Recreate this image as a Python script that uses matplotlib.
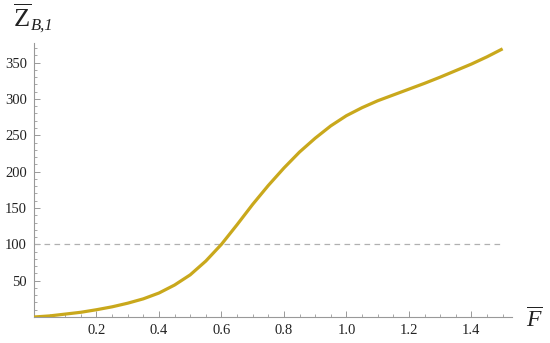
import numpy as np
import matplotlib
matplotlib.use("Agg")
import matplotlib.pyplot as plt
from matplotlib.ticker import MultipleLocator, FixedLocator

# values
F = [0.0, 0.05, 0.1, 0.15, 0.2, 0.25, 0.3, 0.35, 0.4, 0.45, 0.5, 0.55, 0.6,
     0.65, 0.7, 0.75, 0.8, 0.85, 0.9, 0.95, 1.0, 1.05, 1.1, 1.15, 1.2, 1.25,
     1.3, 1.35, 1.4, 1.45, 1.5]
Z = [0, 1.5, 4, 6.5, 10, 14, 19, 25, 33, 44, 58, 77, 100,
     127, 155, 181, 205, 227, 246, 263, 277, 288, 297.5, 305.5, 313.5, 321.5,
     330, 339, 348, 358, 369]
ref_level = 100
xticks = [0.2, 0.4, 0.6, 0.8, 1.0, 1.2, 1.4]
yticks = [50, 100, 150, 200, 250, 300, 350]

plt.rcParams['font.family'] = 'Liberation Serif'
plt.rcParams['mathtext.fontset'] = 'custom'
plt.rcParams['mathtext.rm'] = 'Liberation Serif'
plt.rcParams['mathtext.it'] = 'Liberation Serif:italic'

W, H = 550, 343
fig = plt.figure(figsize=(W / 100, H / 100), dpi=100)
x0, x1 = 34, 512
y0, y1 = 317, 43
ax = fig.add_axes([x0 / W, (H - y0) / H, (x1 - x0) / W, (y0 - y1) / H])

ax.plot(F, Z, color='#C9A81C', lw=2.3, solid_capstyle='butt',
        solid_joinstyle='round', zorder=3)
ax.plot([0, 1.5], [ref_level, ref_level], color='#b0b0b0', lw=0.9,
        dashes=(4.5, 3.5), zorder=2)

ax.set_xlim(0, 1.53)
ax.set_ylim(0, 377)

for s in ['top', 'right']:
    ax.spines[s].set_visible(False)
for s in ['left', 'bottom']:
    ax.spines[s].set_color('#999999')
    ax.spines[s].set_linewidth(0.8)

ax.xaxis.set_major_locator(FixedLocator(xticks))
ax.yaxis.set_major_locator(FixedLocator(yticks))
ax.xaxis.set_minor_locator(MultipleLocator(0.05))
ax.yaxis.set_minor_locator(MultipleLocator(10))
ax.set_xticklabels([f"{v:.1f}" for v in xticks])
ax.set_yticklabels([str(v) for v in yticks])
ax.tick_params(which='major', direction='in', length=4, width=0.7,
               color='#999999', labelsize=10.5, labelcolor='#222222', pad=5)
ax.tick_params(which='minor', direction='in', length=2.2, width=0.6,
               color='#999999')

# y label: overlined Z with italic subscript
fig.text(13 / W, 1 - 27 / H, r'$\overline{\mathrm{Z}}$',
         fontsize=19, ha='left', va='baseline', color='#222222')
fig.text(31 / W, 1 - 30 / H, 'B,1', fontsize=12, style='italic',
         ha='left', va='baseline', color='#222222')
fig.text(526 / W, 1 - 327 / H, r'$\overline{F}$', fontsize=17,
         ha='left', va='baseline', color='#222222')

fig.savefig('out.png', dpi=100)
